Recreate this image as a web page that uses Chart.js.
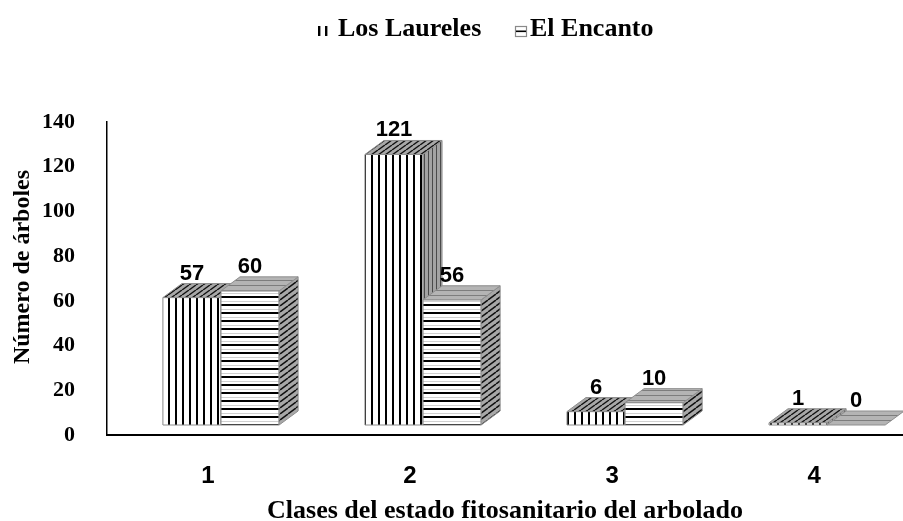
<!DOCTYPE html>
<html>
<head>
<meta charset="utf-8">
<script src="https://cdn.jsdelivr.net/npm/chart.js@4"></script>
<style>
  html, body { margin: 0; padding: 0; background: #fff; }
  #wrap { width: 903px; height: 521px; }
</style>
</head>
<body>
<div id="wrap"><canvas id="grafico"></canvas></div>
<script>
const clases = [1, 2, 3, 4]
const losLaureles = [57, 121, 6, 1]
const elEncanto = [60, 56, 10, 0]
const nombresSeries = ['Los Laureles', 'El Encanto']
const ticksY = [0, 20, 40, 60, 80, 100, 120, 140]
const tituloY = 'Número de árboles'
const tituloX = 'Clases del estado fitosanitario del arbolado'

const serif = "'Liberation Serif', 'Times New Roman', serif"
const sans = "'Liberation Sans', Arial, sans-serif"

// profundidad del efecto 3D
const PROF_X = 19
const PROF_Y = 14
// desplazamiento del "suelo" respecto al eje
const SUELO_X = 13
const SUELO_Y = -10

let patrones = null

const hacerPatron = (ctx, w, h, dibujar) => {
    const c = document.createElement('canvas')
    c.width = w
    c.height = h
    const g = c.getContext('2d')
    dibujar(g, w, h)
    return ctx.createPattern(c, 'repeat')
}

const diagonal = (fondo, linea, grosor) => (g, w, h) => {
    g.fillStyle = fondo
    g.fillRect(0, 0, w, h)
    g.strokeStyle = linea
    g.lineWidth = grosor
    for (let k = -1; k <= 1; k++) {
        g.beginPath()
        g.moveTo(k * w, h)
        g.lineTo(k * w + w, 0)
        g.stroke()
    }
}

const crearPatrones = (ctx) => ({
    laurelesFrente: hacerPatron(ctx, 7, 4, (g, w, h) => {
        g.fillStyle = '#fff'
        g.fillRect(0, 0, w, h)
        g.fillStyle = '#000'
        g.fillRect(0, 0, 2, h)
    }),
    laurelesArriba: hacerPatron(ctx, 7, 5, diagonal('#a8a8a8', '#111', 1.4)),
    laurelesLado: hacerPatron(ctx, 4, 4, (g, w, h) => {
        g.fillStyle = '#a3a3a3'
        g.fillRect(0, 0, w, h)
        g.fillStyle = '#4a4a4a'
        g.fillRect(0, 0, 1, h)
    }),
    encantoFrente: hacerPatron(ctx, 4, 8, (g, w, h) => {
        g.fillStyle = '#fff'
        g.fillRect(0, 0, w, h)
        g.fillStyle = '#000'
        g.fillRect(0, 0, w, 2)
        g.fillStyle = '#d0d0d0'
        g.fillRect(0, 5, w, 1)
    }),
    encantoArriba: hacerPatron(ctx, 4, 5, (g, w, h) => {
        g.fillStyle = '#b4b4b4'
        g.fillRect(0, 0, w, h)
        g.fillStyle = '#7d7d7d'
        g.fillRect(0, 0, w, 1)
    }),
    encantoLado: hacerPatron(ctx, 8, 6, diagonal('#a8a8a8', '#111', 1.5))
})

const cara = (ctx, puntos, relleno) => {
    ctx.beginPath()
    ctx.moveTo(puntos[0][0], puntos[0][1])
    for (let i = 1; i < puntos.length; i++) ctx.lineTo(puntos[i][0], puntos[i][1])
    ctx.closePath()
    ctx.fillStyle = relleno
    ctx.fill()
    ctx.strokeStyle = '#8e8e8e'
    ctx.lineWidth = 1
    ctx.stroke()
}

const dibujarBarra = (ctx, barra, frente, arriba, lado) => {
    const {x, y, base, width} = barra.getProps(['x', 'y', 'base', 'width'], true)
    const izq = x - width / 2 + SUELO_X
    const der = x + width / 2 + SUELO_X
    const sup = y + SUELO_Y
    const inf = base + SUELO_Y
    if (inf - sup > 0.5) {
        cara(ctx, [[izq, sup], [der, sup], [der, inf], [izq, inf]], frente)
        cara(ctx, [[der, sup], [der + PROF_X, sup - PROF_Y], [der + PROF_X, inf - PROF_Y], [der, inf]], lado)
    }
    cara(ctx, [[izq, sup], [der, sup], [der + PROF_X, sup - PROF_Y], [izq + PROF_X, sup - PROF_Y]], arriba)
    return {cx: (izq + der) / 2, tope: sup - PROF_Y}
}

const barras3D = {
    id: 'barras3D',
    afterDatasetsDraw(chart) {
        const ctx = chart.ctx
        if (!patrones) patrones = crearPatrones(ctx)
        const m0 = chart.getDatasetMeta(0)
        const m1 = chart.getDatasetMeta(1)
        const etiquetas = []
        ctx.save()
        clases.forEach((c, i) => {
            const a = dibujarBarra(ctx, m0.data[i], patrones.laurelesFrente, patrones.laurelesArriba, patrones.laurelesLado)
            etiquetas.push([a, losLaureles[i]])
            const b = dibujarBarra(ctx, m1.data[i], patrones.encantoFrente, patrones.encantoArriba, patrones.encantoLado)
            etiquetas.push([b, elEncanto[i]])
        })
        ctx.fillStyle = '#000'
        ctx.font = 'bold 22px ' + sans
        ctx.textAlign = 'center'
        ctx.textBaseline = 'alphabetic'
        etiquetas.forEach(([p, v]) => ctx.fillText(String(v), p.cx, p.tope - 4))
        ctx.restore()
    }
}

// leyenda y titulo del eje Y dibujados a mano
const textos = {
    id: 'textos',
    afterDraw(chart) {
        const ctx = chart.ctx
        ctx.save()
        // icono Los Laureles
        ctx.fillStyle = '#000'
        ctx.fillRect(318, 26, 2.4, 10)
        ctx.fillRect(325, 26, 2.4, 10)
        // icono El Encanto
        ctx.fillStyle = '#fff'
        ctx.fillRect(515.5, 26.5, 11, 10)
        ctx.strokeStyle = '#8a8a8a'
        ctx.lineWidth = 1.2
        ctx.strokeRect(515.5, 26.5, 11, 10)
        ctx.fillStyle = '#000'
        ctx.fillRect(516, 30.5, 10, 1.6)
        ctx.font = 'bold 26px ' + serif
        ctx.textAlign = 'left'
        ctx.textBaseline = 'alphabetic'
        ctx.fillText(nombresSeries[0], 338, 36)
        ctx.fillText(nombresSeries[1], 530, 36)

        ctx.translate(23, 267)
        ctx.rotate(-Math.PI / 2)
        ctx.font = 'bold 24px ' + serif
        ctx.textAlign = 'center'
        ctx.textBaseline = 'middle'
        ctx.fillText(tituloY, 0, 0)
        ctx.restore()
    }
}

const ctx = document.querySelector('#grafico')
const grafico = new Chart(ctx, {
    type: 'bar',
    data: {
        datasets: [
            {
                label: nombresSeries[0],
                data: clases.map((c, i) => ({x: c, y: losLaureles[i]})),
                backgroundColor: 'rgba(0,0,0,0)',
                borderWidth: 0
            },
            {
                label: nombresSeries[1],
                data: clases.map((c, i) => ({x: c, y: elEncanto[i]})),
                backgroundColor: 'rgba(0,0,0,0)',
                borderWidth: 0
            }
        ]
    },
    options: {
        responsive: true,
        maintainAspectRatio: false,
        animation: false,
        categoryPercentage: 0.575,
        barPercentage: 1,
        layout: {
            padding: {top: 122, left: 5, right: 0, bottom: 0}
        },
        plugins: {
            legend: {display: false},
            tooltip: {enabled: false}
        },
        scales: {
            x: {
                type: 'linear',
                offset: false,
                min: 0.5,
                max: 4.44,
                afterBuildTicks: (scale) => {
                    scale.ticks = clases.map(v => ({value: v}))
                },
                afterFit: (scale) => {
                    scale.height = 86
                },
                grid: {display: false, drawTicks: false},
                border: {display: true, color: '#000', width: 2},
                ticks: {
                    padding: 27,
                    color: '#000',
                    font: {family: sans, size: 24, weight: 'bold'},
                    callback: v => String(v)
                },
                title: {
                    display: true,
                    text: tituloX,
                    color: '#000',
                    font: {family: serif, size: 26, weight: 'bold', lineHeight: 1},
                    padding: {top: 4, bottom: -3}
                }
            },
            y: {
                min: 0,
                max: 140,
                afterBuildTicks: (scale) => {
                    scale.ticks = ticksY.map(v => ({value: v}))
                },
                afterFit: (scale) => {
                    scale.width = 102
                },
                grid: {display: false, drawTicks: false},
                border: {display: true, color: '#000', width: 1.5},
                ticks: {
                    padding: 32,
                    color: '#000',
                    font: {family: serif, size: 22, weight: 'bold'}
                },
                title: {display: false}
            }
        }
    },
    plugins: [barras3D, textos]
})
</script>
</body>
</html>
